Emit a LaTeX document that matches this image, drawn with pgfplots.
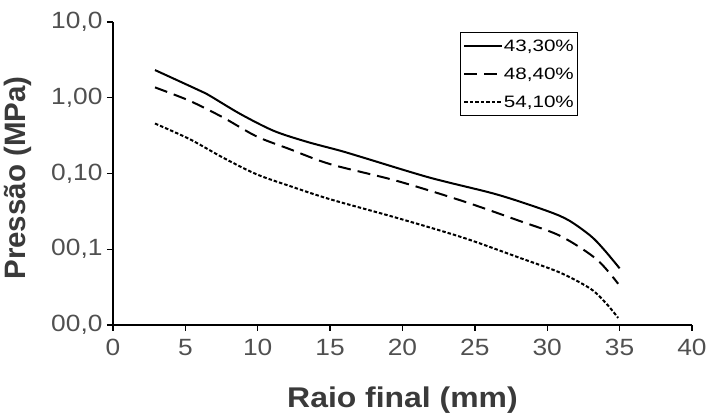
\documentclass[border=0pt]{standalone}
\usepackage{pgfplots}
\pgfplotsset{compat=1.18}
\usepackage{fontspec}
\setmainfont{Liberation Sans}[FakeStretch=1.12]
\newfontfamily\ylabfont{Liberation Sans}
\newfontfamily\legfont{Liberation Sans}[FakeStretch=1.25]
\definecolor{tickgray}{HTML}{505050}
\definecolor{labgray}{HTML}{3A3A3A}
\begin{document}
\begin{tikzpicture}
\begin{axis}[
  scale only axis, width=579pt, height=303pt,
  ymode=log, xmin=0, xmax=40, ymin=0.001, ymax=10,
  axis x line=bottom, axis y line=left,
  axis line style={line width=1.6pt, -},
  xtick={0,5,...,40},
  ytick={0.001,0.01,0.1,1,10},
  yticklabels={{00,0},{00,1},{0,10},{1,00},{10,0}},
  yminorticks=false,
  tick align=outside, major tick length=6pt,
  tick style={line width=1.4pt, black},
  /pgf/number format/assume math mode=true,
  ticklabel style={font=\fontsize{23.5}{26}\selectfont, text=tickgray},
  xticklabel style={yshift=-5pt},
  yticklabel style={xshift=-1pt},
  xlabel={Raio final (mm)}, ylabel={\ylabfont\bfseries Pressão (MPa)},
  xlabel style={font=\bfseries\fontsize{28.5}{30}\selectfont, text=labgray,
    at={(axis description cs:0.5,0)}, anchor=base, yshift=-82pt},
  ylabel style={font=\bfseries\fontsize{29.5}{32}\selectfont, text=labgray,
    at={([xshift=-95pt,yshift=-4.5pt]axis description cs:0,0.5)}, anchor=center},
  legend style={at={(0.803,0.967)}, anchor=north east, draw=black, line width=1.2pt,
    font=\legfont\fontsize{16.5}{17}\selectfont, inner xsep=3pt, inner ysep=6pt, row sep=13pt,
    nodes={inner sep=0.5pt, text height=12pt, text depth=2pt}},
  legend cell align=left,
  legend image code/.code={\draw[#1, line width=2pt] (0pt,0pt) -- (38pt,0pt);},
  every axis plot/.append style={line width=2pt, black, smooth, tension=0.5},
]
\coordinate (sw) at (rel axis cs:0,0);
\coordinate (ne) at (rel axis cs:1,1);
\addplot[solid] coordinates {(2.9,2.32) (6.0,1.24) (6.7,1.06) (8.8,0.61) (11.1,0.366) (13.4,0.262) (15.7,0.20) (17.3,0.162) (21.9,0.088) (26.5,0.053) (30.0,0.032) (31.5,0.024) (33.0,0.015) (33.9,0.010) (35.0,0.0056)};
\addlegendentry{43,30\%}
\addplot[dash pattern=on 13pt off 7pt] coordinates {(2.9,1.37) (5.3,0.91) (7.6,0.55) (9.9,0.31) (12.2,0.21) (15.0,0.133) (19.6,0.080) (24.2,0.043) (28.1,0.0236) (30.9,0.015) (33.4,0.0074) (34.9,0.0035)};
\addlegendentry{48,40\%}
\addplot[dash pattern=on 3.5pt off 2pt] coordinates {(2.9,0.457) (5.3,0.284) (7.6,0.162) (9.9,0.098) (12.2,0.0685) (15.0,0.0457) (19.6,0.026) (24.2,0.0142) (28.1,0.0077) (30.9,0.0049) (33.0,0.0030) (34.1,0.0019) (34.9,0.00124)};
\addlegendentry{54,10\%}
\end{axis}
\pgfresetboundingbox
\path[use as bounding box] ([shift={(-113pt,-89pt)}]sw) rectangle ([shift={(18pt,22pt)}]ne);
\end{tikzpicture}
\end{document}
